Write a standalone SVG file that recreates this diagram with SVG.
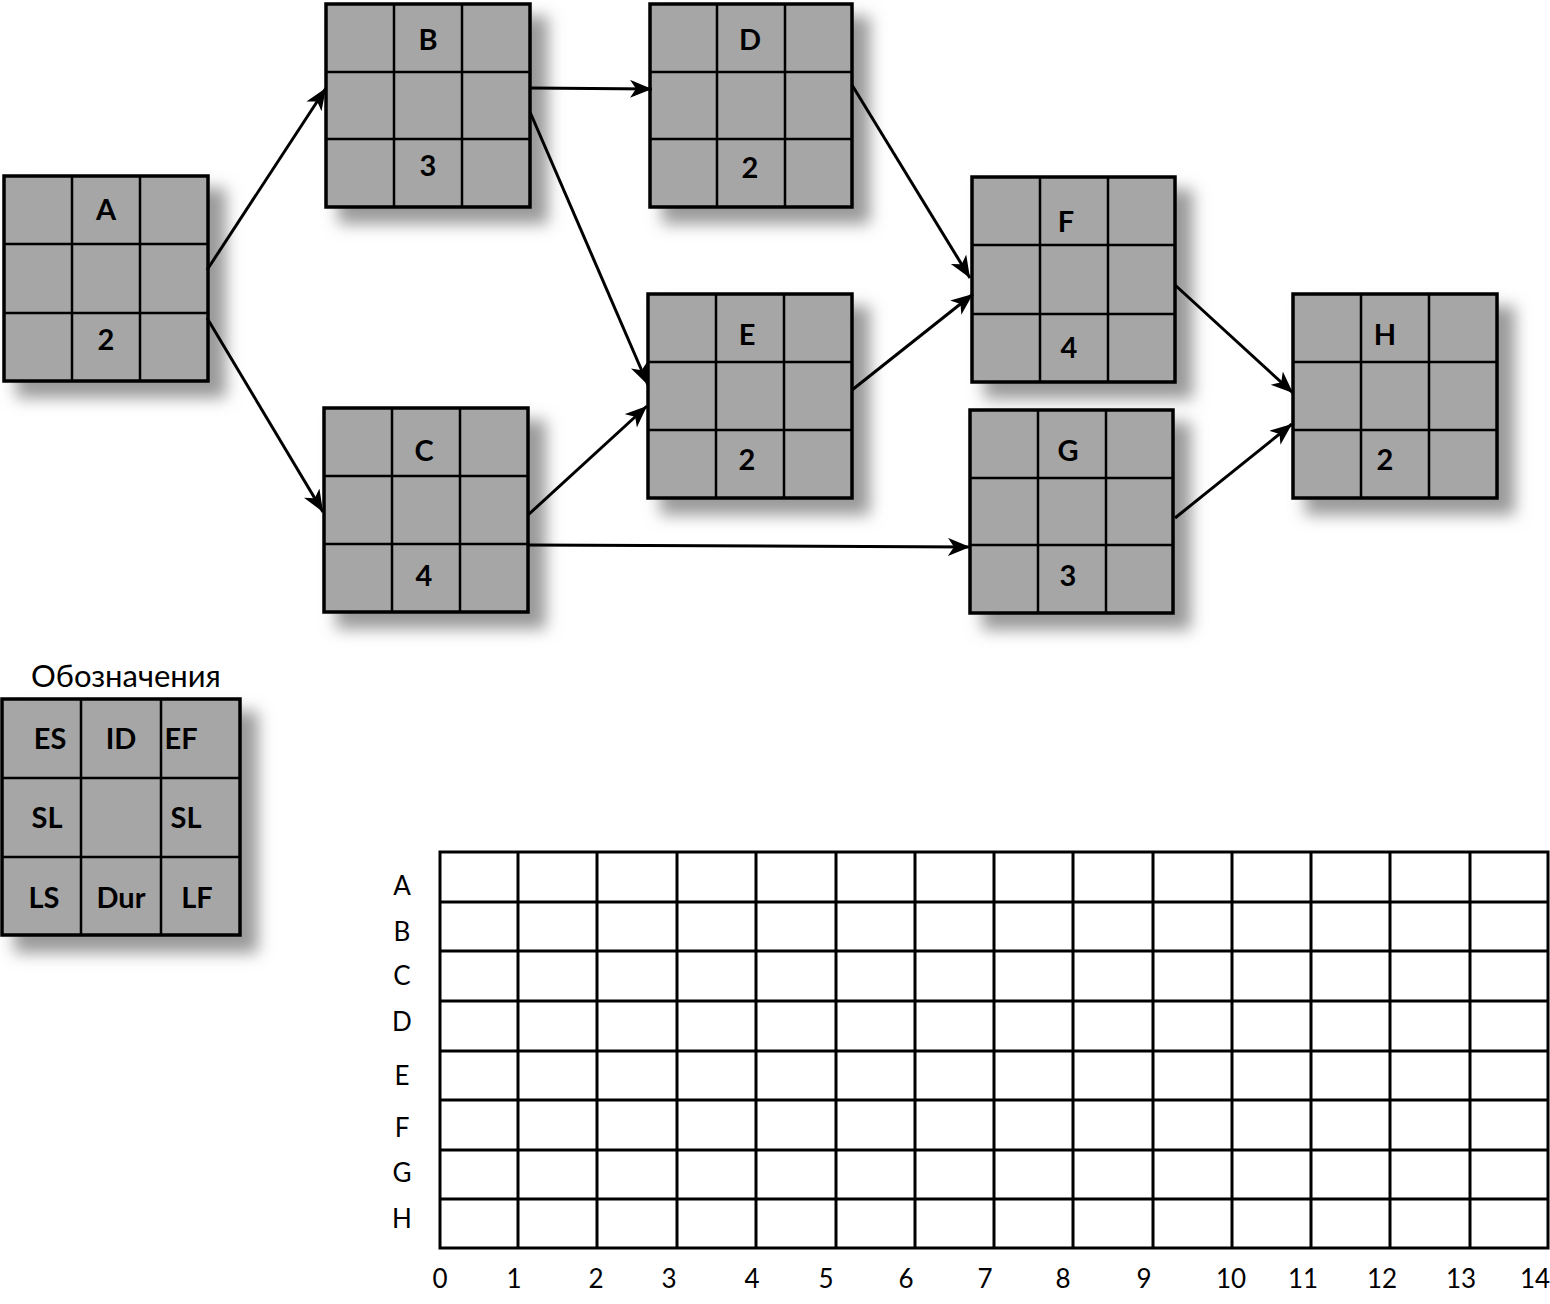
<svg xmlns="http://www.w3.org/2000/svg" width="1550" height="1304" viewBox="0 0 1550 1304">
<style>
.shadow{fill:#9a9a9a;filter:url(#blur)}
.cell{fill:#a6a6a6;stroke:#000;stroke-width:3.5}
.grid{stroke:#000;stroke-width:2.5;fill:none}
.lbl{font-family:Lato,"Open Sans","DejaVu Sans",sans-serif;font-size:29px;font-weight:700;text-anchor:middle;fill:#000}
.conn{stroke:#000;stroke-width:3;fill:none;marker-end:url(#arr)}
.gl{stroke:#000;stroke-width:3;fill:none}
.ax{font-family:Lato,"Open Sans","DejaVu Sans",sans-serif;font-size:26px;text-anchor:middle;fill:#000}
</style>
<defs>
<filter id="blur" x="-20%" y="-20%" width="140%" height="140%"><feGaussianBlur stdDeviation="8"/></filter>
<marker id="arr" markerUnits="userSpaceOnUse" markerWidth="26" markerHeight="20" refX="22" refY="9" orient="auto">
<path d="M0,0 L22,9 L0,18 L6,9 Z" fill="#000"/>
</marker>
</defs>
<rect width="1550" height="1304" fill="#fff"/>

<g id="node-A">
<rect class="shadow" x="16" y="188" width="210" height="210"/>
<rect class="cell" x="4" y="176" width="204" height="205"/>
<path class="grid" d="M72,176V381M140,176V381M4,244H208M4,313H208"/>
<text class="lbl" x="106" y="220">A</text>
<text class="lbl" x="106" y="350">2</text>
</g>
<g id="node-B">
<rect class="shadow" x="338" y="16" width="210" height="208"/>
<rect class="cell" x="326" y="4" width="204" height="203"/>
<path class="grid" d="M394,4V207M462,4V207M326,72H530M326,139H530"/>
<text class="lbl" x="428" y="50">B</text>
<text class="lbl" x="428" y="176">3</text>
</g>
<g id="node-C">
<rect class="shadow" x="336" y="420" width="210" height="209"/>
<rect class="cell" x="324" y="408" width="204" height="204"/>
<path class="grid" d="M392,408V612M460,408V612M324,476H528M324,544H528"/>
<text class="lbl" x="424" y="461">C</text>
<text class="lbl" x="424" y="586">4</text>
</g>
<g id="node-D">
<rect class="shadow" x="662" y="16" width="208" height="208"/>
<rect class="cell" x="650" y="4" width="202" height="203"/>
<path class="grid" d="M717,4V207M785,4V207M650,72H852M650,139H852"/>
<text class="lbl" x="750" y="50">D</text>
<text class="lbl" x="750" y="178">2</text>
</g>
<g id="node-E">
<rect class="shadow" x="660" y="306" width="210" height="209"/>
<rect class="cell" x="648" y="294" width="204" height="204"/>
<path class="grid" d="M716,294V498M784,294V498M648,362H852M648,430H852"/>
<text class="lbl" x="747" y="345">E</text>
<text class="lbl" x="747" y="470">2</text>
</g>
<g id="node-F">
<rect class="shadow" x="984" y="189" width="209" height="210"/>
<rect class="cell" x="972" y="177" width="203" height="205"/>
<path class="grid" d="M1040,177V382M1108,177V382M972,245H1175M972,314H1175"/>
<text class="lbl" x="1066" y="232">F</text>
<text class="lbl" x="1069" y="358">4</text>
</g>
<g id="node-G">
<rect class="shadow" x="982" y="422" width="209" height="208"/>
<rect class="cell" x="970" y="410" width="203" height="203"/>
<path class="grid" d="M1038,410V613M1106,410V613M970,478H1173M970,545H1173"/>
<text class="lbl" x="1068" y="461">G</text>
<text class="lbl" x="1068" y="586">3</text>
</g>
<g id="node-H">
<rect class="shadow" x="1305" y="306" width="210" height="209"/>
<rect class="cell" x="1293" y="294" width="204" height="204"/>
<path class="grid" d="M1361,294V498M1429,294V498M1293,362H1497M1293,430H1497"/>
<text class="lbl" x="1385" y="345">H</text>
<text class="lbl" x="1385" y="470">2</text>
</g>

<g id="connectors">
<line class="conn" x1="207" y1="270" x2="326" y2="88"/>
<line class="conn" x1="207" y1="318" x2="323" y2="512"/>
<line class="conn" x1="530" y1="88" x2="652" y2="89"/>
<line class="conn" x1="530" y1="112" x2="648" y2="385"/>
<line class="conn" x1="528" y1="515" x2="647" y2="406"/>
<line class="conn" x1="528" y1="545" x2="970" y2="547"/>
<line class="conn" x1="852" y1="85" x2="970" y2="278"/>
<line class="conn" x1="852" y1="390" x2="973" y2="294"/>
<line class="conn" x1="1175" y1="285" x2="1293" y2="393"/>
<line class="conn" x1="1175" y1="518" x2="1292" y2="424"/>
</g>

<g id="legend">
<text class="ax" x="126" y="687" style="font-size:31px">Обозначения</text>
<rect class="shadow" x="14" y="711" width="244" height="242"/>
<rect class="cell" x="2" y="699" width="238" height="236"/>
<path class="grid" d="M81,699V935M161,699V935M2,778H240M2,857H240"/>
<text class="lbl" x="50" y="749">ES</text>
<text class="lbl" x="121" y="749">ID</text>
<text class="lbl" x="181" y="749">EF</text>
<text class="lbl" x="47" y="828">SL</text>
<text class="lbl" x="186" y="828">SL</text>
<text class="lbl" x="44" y="908">LS</text>
<text class="lbl" x="121" y="908">Dur</text>
<text class="lbl" x="197" y="908">LF</text>
</g>

<g id="gantt">
<rect class="gl" x="440" y="852" width="1108" height="396"/>
<path class="gl" d="M518,852V1248M597,852V1248M677,852V1248M756,852V1248M836,852V1248M915,852V1248M994,852V1248M1073,852V1248M1153,852V1248M1232,852V1248M1311,852V1248M1390,852V1248M1470,852V1248"/>
<path class="gl" d="M440,902H1548M440,951H1548M440,1001H1548M440,1051H1548M440,1100H1548M440,1150H1548M440,1199H1548"/>
<text class="ax" x="402" y="895">A</text>
<text class="ax" x="402" y="941">B</text>
<text class="ax" x="402" y="985">C</text>
<text class="ax" x="402" y="1031">D</text>
<text class="ax" x="402" y="1085">E</text>
<text class="ax" x="402" y="1137">F</text>
<text class="ax" x="402" y="1182">G</text>
<text class="ax" x="402" y="1228">H</text>
<text class="ax" x="440" y="1288">0</text>
<text class="ax" x="514" y="1288">1</text>
<text class="ax" x="596" y="1288">2</text>
<text class="ax" x="669" y="1288">3</text>
<text class="ax" x="752" y="1288">4</text>
<text class="ax" x="826" y="1288">5</text>
<text class="ax" x="906" y="1288">6</text>
<text class="ax" x="985" y="1288">7</text>
<text class="ax" x="1063" y="1288">8</text>
<text class="ax" x="1144" y="1288">9</text>
<text class="ax" x="1231" y="1288">10</text>
<text class="ax" x="1303" y="1288">11</text>
<text class="ax" x="1382" y="1288">12</text>
<text class="ax" x="1461" y="1288">13</text>
<text class="ax" x="1535" y="1288">14</text>
</g>
</svg>
